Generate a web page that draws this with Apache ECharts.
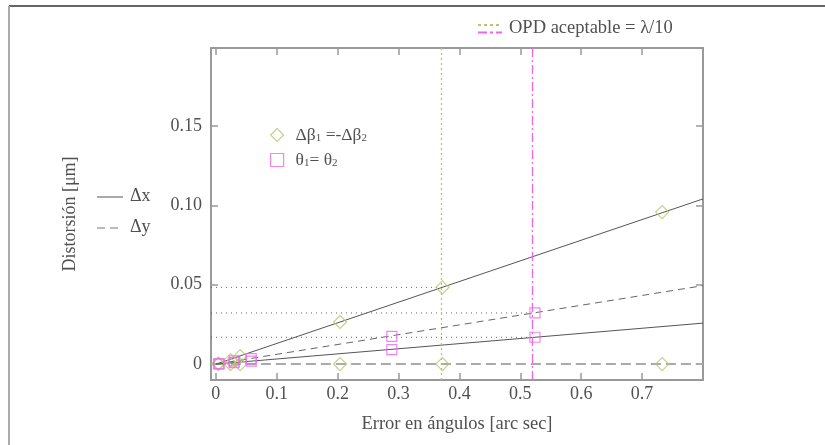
<!DOCTYPE html>
<html><head><meta charset="utf-8">
<script src="https://cdn.jsdelivr.net/npm/echarts@6/dist/echarts.min.js"></script>
<style>html,body{margin:0;padding:0;background:#fff}#c{width:825px;height:445px}</style>
</head><body><div id="c"></div>
<script>
// ---- data ----
const xTicks = [0, 0.1, 0.2, 0.3, 0.4, 0.5, 0.6, 0.7];
const xTickLabels = ['0', '0.1', '0.2', '0.3', '0.4', '0.5', '0.6', '0.7'];
const yTicks = [0, 0.05, 0.10, 0.15];
const yTickLabels = ['0', '0.05', '0.10', '0.15'];

const betaX  = [0.004, 0.024, 0.040, 0.204, 0.372, 0.733];
const betaDx = [0.0004, 0.0025, 0.0050, 0.0265, 0.0483, 0.0957];
const betaDy = [0, 0, 0, 0, 0, 0];

const thetaX  = [0.005, 0.030, 0.058, 0.289, 0.524];
const thetaDx = [0.0001, 0.0010, 0.0019, 0.0091, 0.0169];
const thetaDy = [0.0002, 0.0020, 0.0035, 0.0175, 0.0322];

const fitX        = [0, 0.8];
const fitBetaDx   = [0, 0.104];
const fitBetaDy   = [0, 0];
const fitThetaDx  = [0, 0.0258];
const fitThetaDy  = [0, 0.0494];

const opdBeta = 0.372;   // OPD acceptable limit, Δβ case
const opdTheta = 0.524;  // OPD acceptable limit, θ case
const refLevels = [[opdBeta, 0.0483], [opdTheta, 0.0322], [opdTheta, 0.0169]];

const X_MIN = -0.008, X_MAX = 0.8, Y_MIN = -0.01, Y_MAX = 0.199;

// ---- styles ----
const FONT = '"Liberation Serif", "DejaVu Serif", serif';
const TXT = '#505050';
const AX = '#999';
const C_BETA = '#b9c46e';
const C_THETA = '#f064f0';

const zip = (a, b) => a.map((v, i) => [v, b[i]]);
const lbl = (ticks, labels) => v => { const i = ticks.findIndex(t => Math.abs(t - v) < 1e-9); return i < 0 ? '' : labels[i]; };

const axisLine = { onZero: false, lineStyle: { color: AX, width: 2 } };
const tick = cv => ({ inside: true, length: 7, customValues: cv, lineStyle: { color: AX, width: 1.5 } });

const chart = echarts.init(document.getElementById('c'));
chart.setOption({
  animation: false,
  backgroundColor: '#fff',
  grid: { left: 211, top: 48, width: 492, height: 332 },
  xAxis: [
    {
      type: 'value', min: X_MIN, max: X_MAX, position: 'bottom',
      axisLine, axisTick: tick(xTicks), splitLine: { show: false },
      axisLabel: { customValues: xTicks, formatter: lbl(xTicks, xTickLabels), margin: 5,
        fontFamily: FONT, fontSize: 18, color: TXT },
      name: 'Error en ángulos [arc sec]', nameLocation: 'middle', nameGap: 35,
      nameTextStyle: { fontFamily: FONT, fontSize: 18.5, color: TXT }
    },
    {
      type: 'value', min: X_MIN, max: X_MAX, position: 'top',
      axisLine, axisTick: tick(xTicks), splitLine: { show: false },
      axisLabel: { show: false }
    }
  ],
  yAxis: [
    {
      type: 'value', min: Y_MIN, max: Y_MAX, position: 'left',
      axisLine, axisTick: tick(yTicks), splitLine: { show: false },
      axisLabel: { customValues: yTicks, formatter: lbl(yTicks, yTickLabels), margin: 9,
        fontFamily: FONT, fontSize: 18, color: TXT },
      name: 'Distorsión [μm]', nameLocation: 'middle', nameGap: 132,
      nameTextStyle: { fontFamily: FONT, fontSize: 18, color: TXT }
    },
    {
      type: 'value', min: Y_MIN, max: Y_MAX, position: 'right',
      axisLine, axisTick: tick(yTicks), splitLine: { show: false },
      axisLabel: { show: false }
    }
  ],
  legend: {
    left: 265, top: 121, orient: 'vertical', itemGap: 7, itemWidth: 13, itemHeight: 13,
    selectedMode: false,
    data: [
      { name: 'beta', icon: 'diamond', itemStyle: { color: 'rgba(0,0,0,0)', borderColor: C_BETA, borderWidth: 1.2 } },
      { name: 'theta', icon: 'rect', itemStyle: { color: 'rgba(0,0,0,0)', borderColor: C_THETA, borderWidth: 1.2 } }
    ],
    formatter: n => n === 'beta' ? 'Δβ{s|1} =-Δβ{s|2}' : 'θ{s|1}= θ{s|2}',
    textStyle: { fontFamily: FONT, fontSize: 17.5, color: TXT, padding: [0, 0, 0, 7],
      rich: { s: { fontFamily: FONT, fontSize: 11, color: TXT, padding: [6, 0, 0, 0] } } }
  },
  graphic: [
    { type: 'line', shape: { x1: 9, y1: 6, x2: 825, y2: 6 }, style: { stroke: '#666', lineWidth: 2 } },
    { type: 'line', shape: { x1: 9, y1: 6, x2: 9, y2: 445 }, style: { stroke: '#aaa', lineWidth: 2 } },
    // OPD legend
    { type: 'line', shape: { x1: 478, y1: 25, x2: 502, y2: 25 }, style: { stroke: C_BETA, lineWidth: 2, lineDash: [3, 3] } },
    { type: 'line', shape: { x1: 478, y1: 32.5, x2: 502, y2: 32.5 }, style: { stroke: C_THETA, lineWidth: 2, lineDash: [9, 3, 3, 3] } },
    { type: 'text', left: 509, top: 19, style: { text: 'OPD aceptable = λ/10', fontFamily: FONT, fontSize: 18.5, fill: TXT } },
    // Δx / Δy legend
    { type: 'line', shape: { x1: 97, y1: 197, x2: 123, y2: 197 }, style: { stroke: '#555', lineWidth: 1 } },
    { type: 'text', left: 130, top: 187, style: { text: 'Δx', fontFamily: FONT, fontSize: 18, fill: TXT } },
    { type: 'line', shape: { x1: 97, y1: 228, x2: 123, y2: 228 }, style: { stroke: '#777', lineWidth: 1, lineDash: [8, 5] } },
    { type: 'text', left: 130, top: 218, style: { text: 'Δy', fontFamily: FONT, fontSize: 18, fill: TXT } }
  ],
  series: [
    // OPD verticals
    { type: 'line', data: [], silent: true,
      markLine: { symbol: 'none', silent: true, label: { show: false },
        data: [
          { xAxis: opdBeta, lineStyle: { color: C_BETA, width: 1.3, type: [2, 3] } },
          { xAxis: opdTheta, lineStyle: { color: C_THETA, width: 1.3, type: [9, 3, 2, 3] } }
        ] } },
    // dotted reference levels
    ...refLevels.map(p => ({ type: 'line', data: [[X_MIN, p[1]], [p[0], p[1]]], symbol: 'none', silent: true,
      lineStyle: { color: '#666', width: 1, type: [1, 4] } })),
    // fits
    { type: 'line', data: zip(fitX, fitBetaDy), symbol: 'none', silent: true,
      lineStyle: { color: '#aaa', width: 2, type: [10, 5] } },
    { type: 'line', data: zip(fitX, fitBetaDx), symbol: 'none', silent: true,
      lineStyle: { color: '#555', width: 1 } },
    { type: 'line', data: zip(fitX, fitThetaDx), symbol: 'none', silent: true,
      lineStyle: { color: '#555', width: 1 } },
    { type: 'line', data: zip(fitX, fitThetaDy), symbol: 'none', silent: true,
      lineStyle: { color: '#666', width: 1, type: [7, 5] } },
    // points
    { name: 'beta', type: 'scatter', symbol: 'diamond', symbolSize: 13, z: 5,
      data: zip(betaX, betaDx).concat(zip(betaX, betaDy)),
      itemStyle: { color: 'rgba(0,0,0,0)', borderColor: C_BETA, borderWidth: 1.2 } },
    { name: 'theta', type: 'scatter', symbol: 'rect', symbolSize: 10, z: 5,
      data: zip(thetaX, thetaDx).concat(zip(thetaX, thetaDy)),
      itemStyle: { color: 'rgba(0,0,0,0)', borderColor: C_THETA, borderWidth: 1.2 } }
  ]
});
</script></body></html>
